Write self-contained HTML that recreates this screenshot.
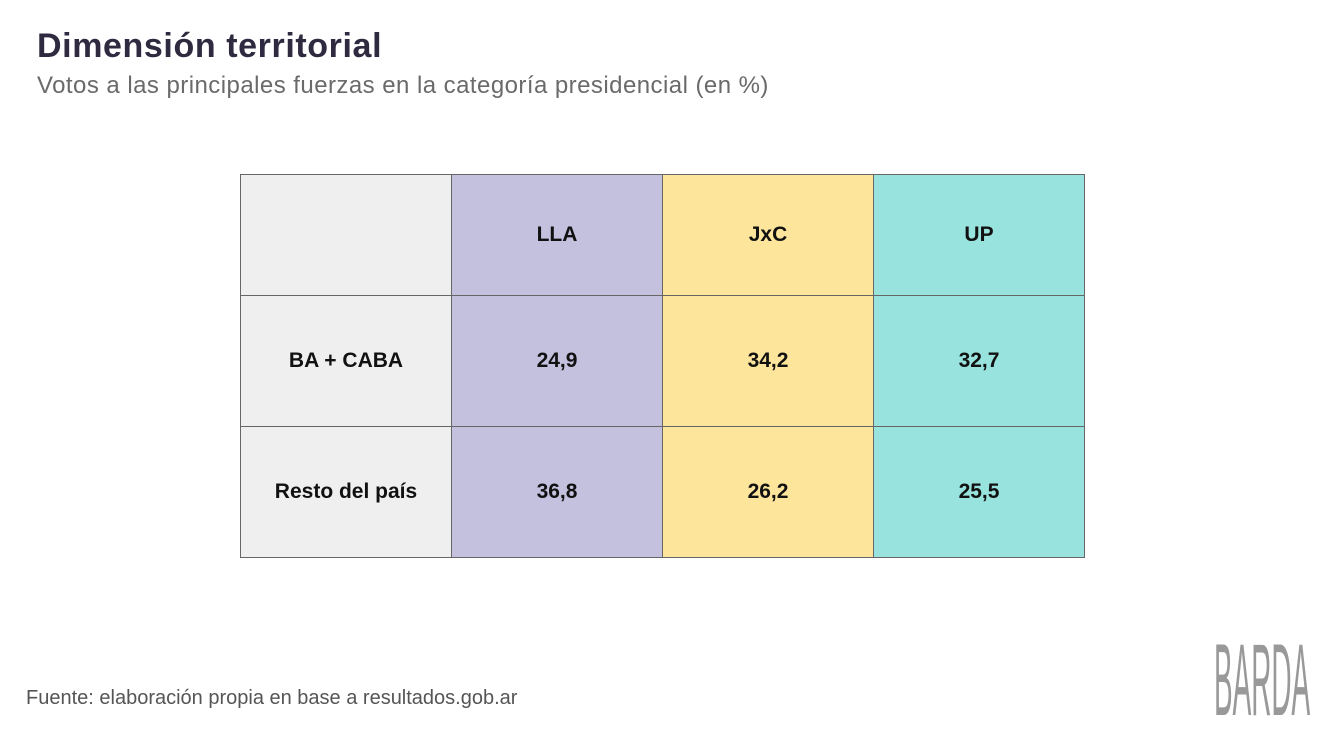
<!DOCTYPE html>
<html><head><meta charset="utf-8"><style>
body{margin:0;width:1325px;height:733px;background:#fff;font-family:"Liberation Sans",sans-serif;position:relative;overflow:hidden}
.t{position:absolute;left:37px;top:27px;font-size:34px;font-weight:bold;color:#2f2a40;letter-spacing:0.6px}
.s{position:absolute;left:37px;top:72px;font-size:24px;color:#6a6a6a;letter-spacing:0.45px}
.f{position:absolute;left:26px;top:687px;font-size:20px;color:#555}
table{position:absolute;left:240px;top:174px;border-collapse:collapse}
td{border:1.5px solid #666;width:210px;text-align:center;font-weight:bold;font-size:21px;color:#111;padding:0}
.g{background:#efefef}.p{background:#c4c1de}.y{background:#fde59c}.c{background:#98e3dd}
</style></head><body>
<div class="t">Dimensión territorial</div>
<div class="s">Votos a las principales fuerzas en la categoría presidencial (en %)</div>
<table>
<tr style="height:121px"><td class="g"></td><td class="p">LLA</td><td class="y">JxC</td><td class="c">UP</td></tr>
<tr style="height:131px"><td class="g">BA + CABA</td><td class="p">24,9</td><td class="y">34,2</td><td class="c">32,7</td></tr>
<tr style="height:131px"><td class="g">Resto del país</td><td class="p">36,8</td><td class="y">26,2</td><td class="c">25,5</td></tr>
</table>
<div class="f">Fuente: elaboración propia en base a resultados.gob.ar</div>
<svg style="position:absolute;left:1205px;top:625px" width="120" height="108">
<text x="0" y="0" transform="translate(9,90) scale(0.82,3)" font-family="Liberation Sans" font-size="34" fill="#999">BARDA</text>
</svg>
</body></html>
